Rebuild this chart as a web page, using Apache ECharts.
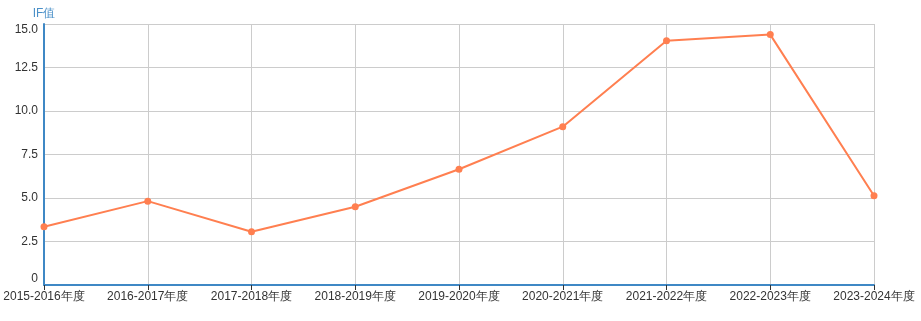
<!DOCTYPE html>
<html>
<head>
<meta charset="utf-8">
<script src="https://cdn.jsdelivr.net/npm/echarts@6/dist/echarts.min.js"></script>
<style>html,body{margin:0;padding:0;background:#fff}#c{width:921px;height:321px}</style>
</head>
<body>
<div id="c"></div>
<script>
const categories = ['2015-2016年度','2016-2017年度','2017-2018年度','2018-2019年度','2019-2020年度','2020-2021年度','2021-2022年度','2022-2023年度','2023-2024年度'];
const ifValues = [3.35, 4.82, 3.06, 4.5, 6.65, 9.1, 14.04, 14.39, 5.13];
const yTicks = {min: 0, max: 15, interval: 2.5};

const chart = echarts.init(document.getElementById('c'), null, {renderer: 'canvas'});
chart.setOption({
  animation: false,
  grid: {left: 44, right: 47, top: 24, bottom: 36, containLabel: false},
  xAxis: {
    type: 'category',
    data: categories,
    boundaryGap: false,
    axisLine: {show: true, lineStyle: {color: '#3f88c5', width: 2}},
    axisTick: {show: true, alignWithLabel: true, lineStyle: {color: '#333'}},
    axisLabel: {color: '#333', fontSize: 12, interval: 0, margin: 6, fontFamily: 'sans-serif'},
    splitLine: {show: true, lineStyle: {color: '#ccc'}}
  },
  yAxis: {
    type: 'value',
    name: 'IF值',
    nameGap: 4,
    nameTextStyle: {color: '#4a90c8', fontSize: 12, fontFamily: 'sans-serif'},
    min: yTicks.min, max: yTicks.max, interval: yTicks.interval,
    axisLine: {show: true, lineStyle: {color: '#3f88c5', width: 2}},
    axisTick: {show: false},
    axisLabel: {
      color: '#333', fontSize: 12, margin: 6, fontFamily: 'sans-serif',
      formatter: v => v === 0 ? '0' : v.toFixed(1),
      verticalAlignMinLabel: 'bottom',
      verticalAlignMaxLabel: 'top'
    },
    splitLine: {show: true, lineStyle: {color: '#ccc'}}
  },
  series: [{
    type: 'line',
    data: ifValues,
    symbol: 'circle',
    symbolSize: 7,
    itemStyle: {color: '#ff7f50'},
    lineStyle: {color: '#ff7f50', width: 2}
  }]
});
</script>
</body>
</html>
